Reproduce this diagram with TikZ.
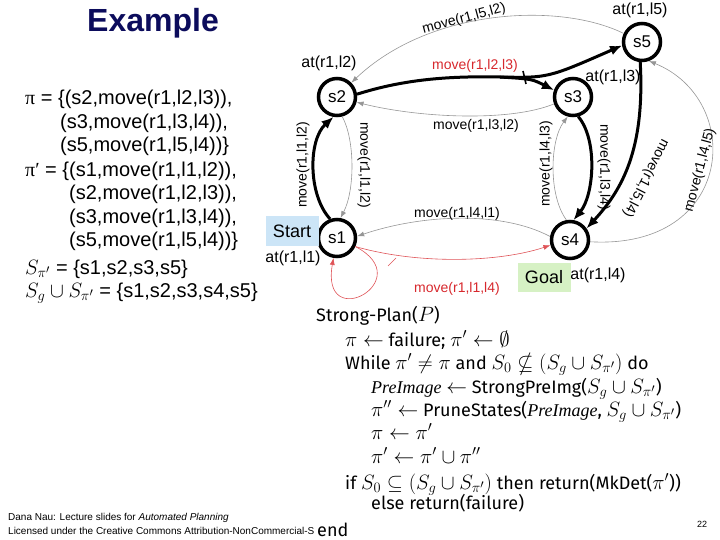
\documentclass[tikz,border=0pt]{standalone}
\usepackage{amssymb}
\usepackage{fontspec}
\setmainfont{Liberation Sans}
\newfontfamily\algfont{Fira Sans}
\newfontfamily\pifont{Liberation Serif}
\DeclareMathSizes{18}{20.74}{14.4}{12}
\DeclareMathSizes{20}{20.74}{14.4}{12}
\usetikzlibrary{arrows.meta}

\definecolor{titleblue}{RGB}{12,12,92}
\definecolor{startblue}{RGB}{204,229,247}
\definecolor{goalgreen}{RGB}{214,241,196}
\definecolor{edgegray}{RGB}{150,150,150}
\definecolor{planred}{RGB}{215,40,45}

\newcommand{\preimg}{{\pifont\itshape PreImage}}

\begin{document}
\begin{tikzpicture}[x=1pt, y=-1pt,
  state/.style  ={circle, draw, line width=3.5pt, fill=white, minimum size=37pt, inner sep=0pt,
                  font=\fontsize{17}{17}\selectfont},
  lbl/.style    ={font=\fontsize{14}{14}\selectfont, inner sep=1pt},
  atlbl/.style  ={font=\fontsize{16}{16}\selectfont, inner sep=1pt},
  markbox/.style={font=\fontsize{18}{18}\selectfont, minimum width=53pt, minimum height=29pt, inner sep=0pt},
  grayedge/.style={draw=edgegray, line width=0.6pt, -{Latex[length=7pt,width=5pt]}},
  strong/.style ={line width=3pt, -{Latex[length=12pt,width=10pt]}},
  rededge/.style={draw=planred!80, line width=0.6pt, -{Latex[length=7pt,width=5pt]}},
  txt/.style    ={anchor=base west, font=\fontsize{20}{20}\selectfont, inner sep=0pt},
  alg/.style    ={anchor=base west, font=\algfont\fontsize{18}{18}\selectfont, inner sep=0pt},
]
\useasboundingbox (0,0) rectangle (720,540);

\node[font=\bfseries\fontsize{32}{32}\selectfont, text=titleblue] (title) at (153,23) {Example};

% plans on the left
\node[txt] (p1) at (25,105) {{\pifont π} = \{(s2,move(r1,l2,l3)),};
\node[txt] (p2) at (60,129) {(s3,move(r1,l3,l4)),};
\node[txt] (p3) at (60,152) {(s5,move(r1,l5,l4))\}};
\node[txt] (q1) at (25,177) {{\pifont π′} = \{(s1,move(r1,l1,l2)),};
\node[txt] (q2) at (69,200) {(s2,move(r1,l2,l3)),};
\node[txt] (q3) at (69,224) {(s3,move(r1,l3,l4)),};
\node[txt] (q4) at (69,247) {(s5,move(r1,l5,l4))\}};
\node[txt] (spi) at (25,274) {$S_{\pi'}$ = \{s1,s2,s3,s5\}};
\node[txt] (sgs) at (25,297) {$S_g\cup S_{\pi'}$ = \{s1,s2,s3,s4,s5\}};

% states
\node[state] (s2) at (337,97) {s2};
\node[state] (s3) at (573,97) {s3};
\node[state] (s5) at (642,42) {s5};
\node[state] (s1) at (337,238) {s1};
\node[state] (s4) at (570,240) {s4};

\node[markbox, fill=startblue] (start) at (292,231) {Start};
\node[markbox, fill=goalgreen] (goal) at (544,277) {Goal};

\node[atlbl] (at5) at (640,10) {at(r1,l5)};
\node[atlbl] (at2) at (329,63) {at(r1,l2)};
\node[atlbl] (at3) at (613,77) {at(r1,l3)};
\node[atlbl] (at1) at (293,258) {at(r1,l1)};
\node[atlbl] (at4) at (598,275) {at(r1,l4)};

% actions
\coordinate (br) at (500,77);
\draw[line width=3pt] (s2.8) .. controls (405,79) and (450,76) .. (br);
\draw[strong] (br) .. controls (532,79) .. (s3.160);
\draw[strong] (br) .. controls (548,78) .. (s5.190);
\draw[line width=1.6pt] (523,71) -- (526,84);
\node[lbl, text=planred] (m23) at (475,66) {move(r1,l2,l3)};

\draw[grayedge] (s5.155) .. controls (560,2) and (430,8) .. (s2.45);
\node[lbl, rotate=15] (m52) at (464,19) {move(r1,l5,l2)};

\draw[grayedge] (s3.200) .. controls (510,122) and (420,118) .. (s2.-15);
\node[lbl] (m32) at (476,126) {move(r1,l3,l2)};

\draw[strong] (s1.110) .. controls (308,195) and (308,140) .. (s2.-100);
\node[lbl, rotate=90] (m12a) at (303,165) {move(r1,l1,l2)};
\draw[grayedge] (s2.-75) .. controls (355,140) and (355,190) .. (s1.80);
\node[lbl, rotate=-90] (m12b) at (364,165) {move(r1,l1,l2)};

\draw[strong] (s3.-75) .. controls (598,140) and (594,195) .. (s4.80);
\node[lbl, rotate=-90] (m34) at (604,167) {move(r1,l3,l4)};
\draw[grayedge] (s4.100) .. controls (548,195) and (550,140) .. (s3.-105);
\node[lbl, rotate=90] (m43) at (546,164) {move(r1,l4,l3)};

\draw[strong] (s5.-95) .. controls (645,150) and (622,190) .. (s4.35);
\node[lbl, rotate=-117] (m54) at (646,178) {move(r1,l5,l4)};
\draw[grayedge] (s4.-5) .. controls (735,250) and (745,100) .. (s5.-70);
\node[lbl, rotate=75] (m45) at (700,170) {move(r1,l4,l5)};

\draw[grayedge] (s4.170) .. controls (500,210) and (420,215) .. (s1.5);
\node[lbl] (m41) at (457,214) {move(r1,l4,l1)};

\draw[rededge] (s1.-25) .. controls (420,265) and (500,262) .. (s4.195);
\draw[rededge] (s1.-25) .. controls (420,280) and (320,335) .. (s1.-100);
\draw[draw=planred!80, line width=0.6pt] (388,266) -- (396,258);
\node[lbl, text=planred] (m14) at (457,289) {move(r1,l1,l4)};

% footer
\node[anchor=base west, font=\fontsize{10}{10}\selectfont, inner sep=0pt] (f1) at (8,520)
  {Dana Nau: Lecture slides for \textit{Automated Planning}};
\node[anchor=base west, font=\fontsize{10}{10}\selectfont, inner sep=0pt] (f2) at (8,534)
  {Licensed under the Creative Commons Attribution-NonCommercial-S};
\node[font=\fontsize{9}{9}\selectfont\rmfamily] (pg) at (702,524) {22};

% algorithm
\node[alg] (a0) at (316,321) {Strong-Plan($P$)};
\node[alg] (a1) at (345,346) {$\pi \leftarrow$ failure; $\pi' \leftarrow \emptyset$};
\node[alg] (a2) at (345,369) {While $\pi' \neq \pi$ and $S_0 \nsubseteq (S_g \cup S_{\pi'})$ do};
\node[alg] (a3) at (371,393) {\preimg{} $\leftarrow$ StrongPreImg($S_g \cup S_{\pi'}$)};
\node[alg] (a4) at (371,416) {$\pi'' \leftarrow$ PruneStates(\preimg, $S_g \cup S_{\pi'}$)};
\node[alg] (a5) at (371,439) {$\pi \leftarrow \pi'$};
\node[alg] (a6) at (371,463) {$\pi' \leftarrow \pi' \cup \pi''$};
\node[alg] (a7) at (345,489) {if $S_0 \subseteq (S_g \cup S_{\pi'})$ then return(MkDet($\pi'$))};
\node[alg] (a8) at (371,509) {else return(failure)};
\node[alg, fill=white, inner sep=1pt] (a9) at (316,536) {end};
\end{tikzpicture}
\end{document}
